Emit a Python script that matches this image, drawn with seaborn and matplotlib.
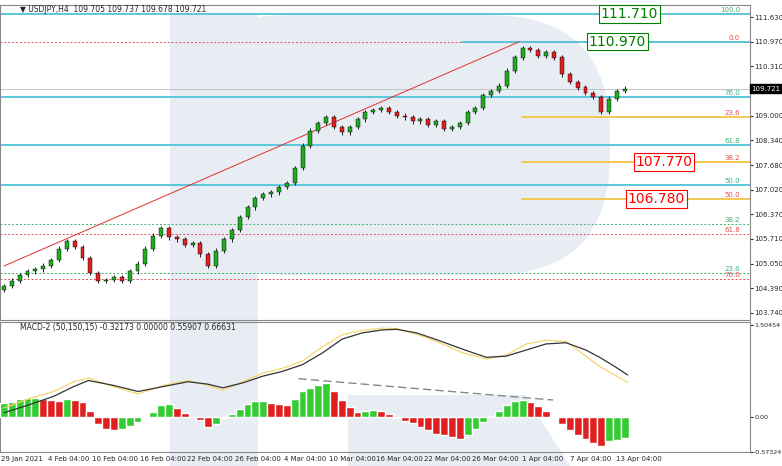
import numpy as np
import pandas as pd
import seaborn as sns
import matplotlib
matplotlib.use("Agg")
import matplotlib.pyplot as plt
from matplotlib.patches import Rectangle, Polygon, FancyBboxPatch

sns.set_style("white")
plt.rcParams['font.family'] = ['DejaVu Sans']

closes = [104.45,104.6,104.75,104.85,104.9,105.0,105.15,105.45,105.65,105.5,105.2,104.8,104.6,104.62,104.7,104.6,
          104.85,105.05,105.45,105.8,106.0,105.75,105.7,105.55,105.6,105.3,105.0,105.4,105.7,105.95,106.3,106.55,
          106.8,106.9,106.95,107.1,107.2,107.6,108.2,108.6,108.8,108.95,108.7,108.55,108.7,108.9,109.1,109.15,
          109.2,109.1,109.0,108.95,108.85,108.9,108.75,108.85,108.65,108.7,108.8,109.1,109.2,109.55,109.65,109.8,
          110.2,110.55,110.8,110.75,110.6,110.7,110.55,110.1,109.9,109.75,109.6,109.5,109.1,109.45,109.65,109.721]
first_open = 104.35
hist = [0.23,0.25,0.3,0.31,0.31,0.3,0.28,0.27,0.29,0.28,0.24,0.1,-0.12,-0.2,-0.22,-0.2,-0.15,-0.08,0.0,0.08,
        0.2,0.22,0.15,0.06,0.0,-0.05,-0.16,-0.12,-0.02,0.05,0.14,0.22,0.26,0.27,0.23,0.21,0.2,0.3,0.42,0.48,
        0.52,0.56,0.42,0.28,0.16,0.08,0.1,0.11,0.1,0.05,-0.02,-0.06,-0.1,-0.16,-0.22,-0.27,-0.3,-0.33,-0.36,-0.3,
        -0.2,-0.08,0.02,0.1,0.2,0.27,0.28,0.24,0.18,0.1,0.02,-0.12,-0.22,-0.3,-0.36,-0.42,-0.48,-0.4,-0.38,-0.35]
line_pos = [0,25,50,70,85,110,135,160,185,205,220,240,260,280,300,320,340,360,380,395,415,435,460,485,505,525,545,565,585,600,615,627]
macd_line = [0.07,0.2,0.34,0.5,0.6,0.52,0.42,0.5,0.58,0.54,0.48,0.56,0.67,0.75,0.86,1.05,1.28,1.38,1.43,1.44,1.38,1.27,1.12,0.98,1.0,1.1,1.2,1.22,1.1,0.97,0.82,0.69]
signal_line = [0.15,0.3,0.42,0.58,0.64,0.5,0.38,0.52,0.6,0.52,0.44,0.58,0.72,0.8,0.92,1.15,1.35,1.42,1.46,1.45,1.36,1.24,1.06,0.95,1.02,1.2,1.26,1.24,1.0,0.82,0.68,0.57]
date_labels = ["29 Jan 2021","4 Feb 04:00","10 Feb 04:00","16 Feb 04:00","22 Feb 04:00","26 Feb 04:00","4 Mar 04:00",
               "10 Mar 04:00","16 Mar 04:00","22 Mar 04:00","26 Mar 04:00","1 Apr 04:00","7 Apr 04:00","13 Apr 04:00"]
date_px = [18,65,112,160,207,255,303,350,398,446,494,542,590,638]
price_ticks = [111.630,110.970,110.310,109.000,108.340,107.680,107.020,106.370,105.710,105.050,104.390,103.740]
fib_levels = [(111.71,"100.0","#3cb371","solid",0),(110.97,"0.0","#e05050","dotted",0),
              (109.49,"76.0","#3cb371","solid",0),(108.97,"23.6","#e05050","solid",522),
              (108.21,"61.8","#3cb371","solid",0),(107.76,"38.2","#e05050","solid",522),
              (107.15,"50.0","#3cb371","solid",0),(106.78,"50.0","#e05050","solid",522),
              (106.10,"38.2","#3cb371","dotted",0),(105.83,"61.8","#e05050","dotted",0),
              (104.80,"23.6","#3cb371","dotted",0),(104.64,"76.0","#e05050","dotted",0)]
boxes = [(111.71,"111.710","green",600),(110.97,"110.970","green",588),
         (107.76,"107.770","red",635),(106.78,"106.780","red",627)]

PX = 7.9
W = 782; H = 466
fig = plt.figure(figsize=(7.82, 4.66), dpi=100)
bg = fig.add_axes([0, 0, 1, 1]); bg.set_xlim(0, W); bg.set_ylim(H, 0); bg.axis('off')
wm = '#e8edf4'
bg.add_patch(FancyBboxPatch((170, 15), 440, 260, boxstyle="round,pad=0,rounding_size=120", fc=wm, ec='none'))
bg.add_patch(Rectangle((170, 15), 88, 451, fc=wm, ec='none'))
bg.add_patch(Polygon([(348, 395), (525, 395), (570, 466), (348, 466)], fc=wm, ec='none'))

ax = fig.add_axes([0, (H-320)/H, 750/W, 315/H]); ax.patch.set_alpha(0)
axm = fig.add_axes([0, 14/H, 750/W, 130/H]); axm.patch.set_alpha(0)
xlim = (-0.5, 750/PX)

opens = [first_open] + closes[:-1]
df = pd.DataFrame({"i": np.arange(len(closes)), "open": opens, "close": closes})
for _, r in df.iterrows():
    up = r.close >= r.open
    c = '#22aa22' if up else '#e02020'
    lo, hi = min(r.open, r.close), max(r.open, r.close)
    ax.vlines(r.i, lo - 0.06, hi + 0.06, color='black', lw=0.6, zorder=3)
    ax.add_patch(Rectangle((r.i - 0.25, lo), 0.5, max(hi - lo, 0.02), fc=c, ec='black', lw=0.3, zorder=4))

for p, lab, col, st, start in fib_levels:
    if st == "solid":
        lc = '#4fc3d9' if col == "#3cb371" else '#f5c542'
        ax.axhline(p, xmin=start/750, color=lc, lw=1.3, zorder=2)
    else:
        ax.axhline(p, color=col, lw=0.7, ls=(0, (2, 2)), zorder=2)
    ax.text(740/PX, p + 0.03, lab, color=col, fontsize=5, ha='right', va='bottom')
ax.plot([460/PX, 750/PX], [110.97, 110.97], color='#4fc3d9', lw=1.3, zorder=2)
ax.plot([0, 518/PX], [104.99, 110.97], color='#e03030', lw=0.7, zorder=2)
ax.axhline(closes[-1], color='#bbbbbb', lw=0.6, zorder=1)
for p, t, col, xp in boxes:
    ax.text(xp/PX, p, t, fontsize=10, color=col, ha='left', va='center', zorder=6,
            bbox=dict(fc='white', ec=col, lw=0.8, pad=1.2))

ax.set_xlim(xlim); ax.set_ylim(103.55, 111.95)
ax.yaxis.tick_right()
ax.set_yticks(price_ticks); ax.set_yticklabels([f"{t:.3f}" for t in price_ticks], fontsize=5)
ax.set_xticks([])
ax.annotate(f"{closes[-1]:.3f}", xy=(1, closes[-1]), xycoords=('axes fraction', 'data'),
            xytext=(1, 0), textcoords='offset points', fontsize=5, color='white', va='center',
            bbox=dict(fc='black', ec='black', pad=0.8))
ax.text(2, 111.95, "▼ USDJPY,H4  109.705 109.737 109.678 109.721", fontsize=5.5, va='top', ha='left')

hcol = ['#e02020' if i > 0 and hist[i] < hist[i-1] else '#33cc33' for i in range(len(hist))]
hdf = pd.DataFrame({"i": np.arange(len(hist)), "h": hist})
axm.bar(hdf.i, hdf.h, width=1.0, color=hcol, zorder=3)
lx = np.array(line_pos) / PX
sns.lineplot(x=lx, y=signal_line, ax=axm, color='#f5d76e', lw=0.9, zorder=4)
sns.lineplot(x=lx, y=macd_line, ax=axm, color='#333333', lw=0.9, zorder=5)
axm.plot([296/PX, 552/PX], [0.63, 0.28], color='#888888', ls=(0, (6, 3)), lw=1.0, zorder=5)
axm.set_xlim(xlim); axm.set_ylim(-0.57324, 1.56)
axm.yaxis.tick_right()
axm.set_yticks([1.50454, 0.0, -0.57324]); axm.set_yticklabels(["1.50454", "0.00", "-0.57324"], fontsize=4.6)
axm.set_xticks(np.array(date_px) / PX); axm.set_xticklabels(date_labels, fontsize=5)
axm.text(2, 1.54, "MACD-2 (50,150,15) -0.32173 0.00000 0.55907 0.66631", fontsize=5.5, va='top', ha='left')
for a in (ax, axm):
    a.tick_params(length=2, pad=1)
    for s in a.spines.values():
        s.set_color('#888888'); s.set_linewidth(0.8)
fig.savefig("out.png", dpi=100)
